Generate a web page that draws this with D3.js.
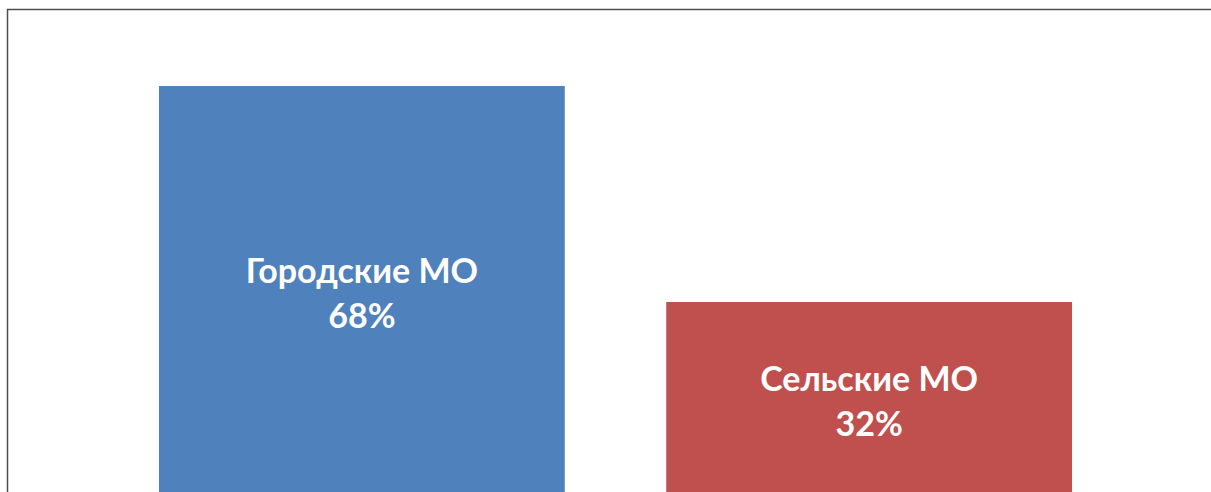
<!DOCTYPE html>
<html>
<head>
<meta charset="utf-8">
<script src="https://cdn.jsdelivr.net/npm/d3@7"></script>
<style>
  html, body { margin: 0; padding: 0; background: #fff; overflow: hidden; }
</style>
</head>
<body>
<div id="chart"></div>
<script>
// data
const categories = ["Городские МО", "Сельские МО"]
const values = [68, 32]
const colors = ["#4F81BD", "#C0504D"]

const width = 1211,
    height = 492;

const svg = d3.select("#chart")
    .append("svg")
    .attr("width", width)
    .attr("height", height)

// frame (chart area is cropped at right and bottom)
svg.append("path")
    .attr("d", `M7.5,${height} V9.5 H${width}`)
    .attr("fill", "none")
    .attr("stroke", "#4d4d4d")
    .attr("stroke-width", 1.5)

const x = d3.scaleBand()
    .domain(categories)
    .range([57.5, 1173.5])
    .padding(0.2)

// baseline sits just below the visible area
const y = d3.scaleLinear()
    .domain([0, 80])
    .range([494, 14])

const bars = svg.selectAll("g.bar")
    .data(categories.map((c, i) => ({ name: c, value: values[i], color: colors[i] })))
    .join("g")
    .attr("class", "bar")

bars.append("rect")
    .attr("x", d => x(d.name))
    .attr("y", d => y(d.value))
    .attr("width", x.bandwidth())
    .attr("height", d => y(0) - y(d.value))
    .attr("fill", d => d.color)

const labels = bars.append("text")
    .attr("transform", d => `translate(${x(d.name) + x.bandwidth() / 2},${(y(d.value) + y(0)) / 2})`)
    .attr("text-anchor", "middle")
    .attr("fill", "#fff")
    .style("font-family", "Lato, 'Open Sans', sans-serif")
    .style("font-weight", "bold")
    .style("font-size", "34px")

labels.append("tspan")
    .attr("x", 0)
    .attr("y", -7)
    .text(d => d.name)

labels.append("tspan")
    .attr("x", 0)
    .attr("y", 38)
    .text(d => d.value + "%")
</script>
</body>
</html>
